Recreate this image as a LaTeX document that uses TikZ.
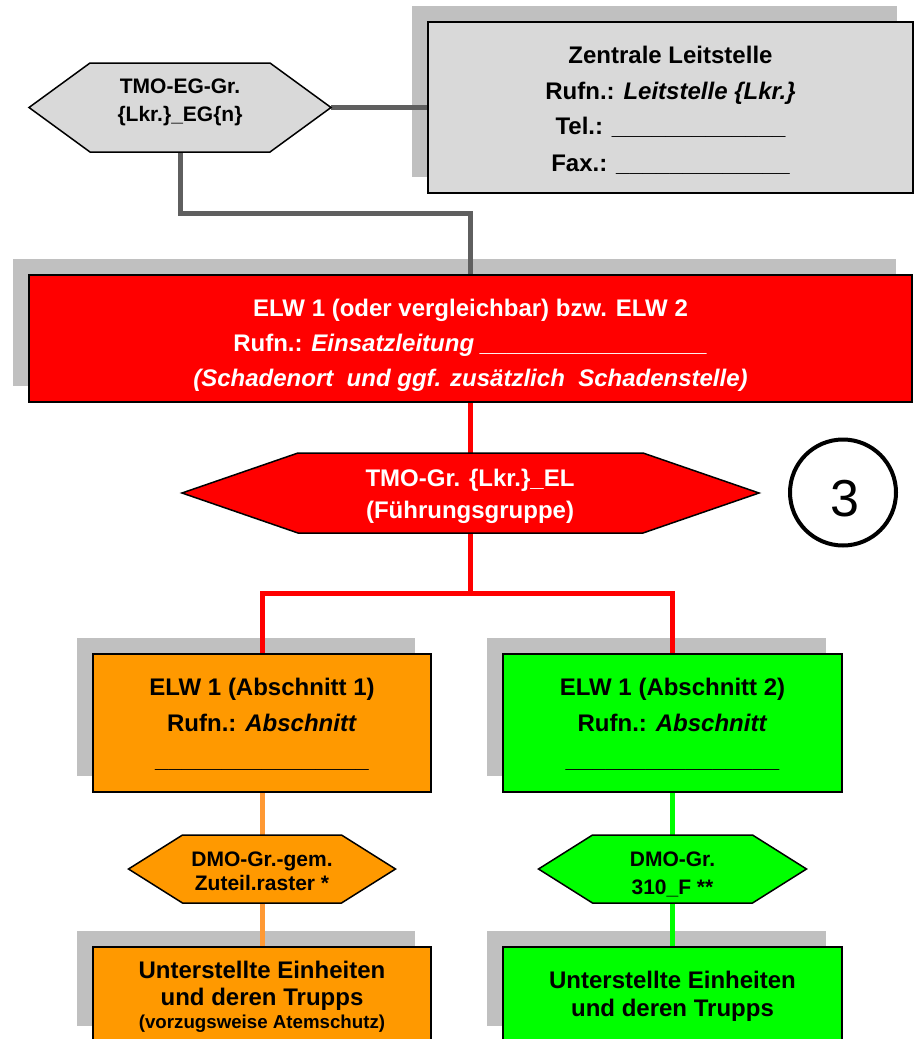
\documentclass[tikz,border=0pt]{standalone}
\usepackage{fontspec}
\setmainfont{Liberation Sans}
\usetikzlibrary{backgrounds,calc}
\definecolor{shadowgray}{HTML}{C0C0C0}
\definecolor{boxgray}{HTML}{D9D9D9}
\definecolor{linegray}{HTML}{5F5F5F}
\definecolor{myred}{HTML}{FF0000}
\definecolor{myorange}{HTML}{FF9900}
\definecolor{orangeline}{HTML}{FF9933}
\definecolor{mygreen}{HTML}{00FF00}
\tikzset{
 box/.style={draw=black, line width=1.5pt, inner sep=0pt, outer sep=0pt, rectangle},
 hexarea/.style={inner sep=0pt, outer sep=0pt, rectangle},
 lbl/.style={anchor=base, inner sep=0pt, font=\fontsize{24}{28}\selectfont\bfseries},
 lblhex/.style={anchor=base, inner sep=0pt, font=\fontsize{21}{25}\selectfont\bfseries},
 lblsmall/.style={anchor=base, inner sep=0pt, font=\fontsize{18.7}{22}\selectfont\bfseries},
 conn/.style={line width=5pt},
}
\newcommand{\hexpath}[3]{\draw[line width=1.5pt, fill=#2, line join=miter] (#1.west) -- ([xshift=#3]#1.north west) -- ([xshift=-#3]#1.north east) -- (#1.east) -- ([xshift=-#3]#1.south east) -- ([xshift=#3]#1.south west) -- cycle;}
\newcommand{\usc}[1]{\foreach \k in {1,...,#1}{\_}}
\begin{document}
\begin{tikzpicture}[x=1pt,y=-1pt]
\useasboundingbox (0,0) rectangle (917,1039);
\clip (0,0) rectangle (917,1039);
% boxes
\node[box, fill=boxgray, minimum width=485pt, minimum height=171pt] (leit) at (670.5,107.5) {};
\node[box, fill=myred, minimum width=883pt, minimum height=127pt] (elw) at (470.5,338.5) {};
\node[box, fill=myorange, minimum width=338pt, minimum height=138pt] (ab1) at (262,723) {};
\node[box, fill=mygreen, minimum width=339pt, minimum height=138pt] (ab2) at (672.5,723) {};
\node[box, fill=myorange, minimum width=338pt, minimum height=95pt] (ue1) at (262,994.5) {};
\node[box, fill=mygreen, minimum width=339pt, minimum height=95pt] (ue2) at (672.5,994.5) {};
% hexagon areas
\node[hexarea, minimum width=302pt, minimum height=89pt] (tmoeg) at (180,107.5) {};
\node[hexarea, minimum width=577pt, minimum height=80pt] (tmoel) at (470.5,493) {};
\node[hexarea, minimum width=267pt, minimum height=68pt] (dmo1) at (262,869) {};
\node[hexarea, minimum width=268pt, minimum height=68pt] (dmo2) at (672.5,869) {};
\hexpath{tmoeg}{boxgray}{61pt}
\hexpath{tmoel}{myred}{116pt}
\hexpath{dmo1}{myorange}{54pt}
\hexpath{dmo2}{mygreen}{54pt}
% circle
\node[draw, circle, line width=4pt, minimum size=106pt, inner sep=0pt] (circ) at (843,492.5) {};
\node[anchor=center, inner sep=0pt, font=\fontsize{52}{52}\selectfont] (three) at (845,498.5) {3};
% shadows and connectors behind
\begin{scope}[on background layer]
\foreach \b in {leit,elw,ab1,ab2,ue1,ue2}
  \fill[shadowgray] ([shift={(-16pt,16pt)}]\b.south west) rectangle ([shift={(-16pt,16pt)}]\b.north east);
\coordinate (bend1) at (0,213);
\coordinate (split) at (0,593);
\draw[conn, linegray] (tmoeg.east) -- (leit.west);
\draw[conn, linegray] (tmoeg.south) -- (tmoeg.south |- bend1) -| (elw.north);
\draw[conn, myred] (elw.south) -- (tmoel.north);
\draw[conn, myred] (tmoel.south) -- (tmoel.south |- split) -| (ab1.north);
\draw[conn, myred] (tmoel.south |- split) -| (ab2.north);
\draw[conn, orangeline] (ab1.south) -- (dmo1.north);
\draw[conn, orangeline] (dmo1.south) -- (ue1.north);
\draw[conn, mygreen] (ab2.south) -- (dmo2.north);
\draw[conn, mygreen] (dmo2.south) -- (ue2.north);
\end{scope}
% texts
\node[lblhex] (t1) at (180,93) {TMO-EG-Gr.};
\node[lblhex] (t2) at (180,121.5) {\{Lkr.\}\_EG\{n\}};
\node[lbl] (l1) at (670.5,63) {Zentrale Leitstelle};
\node[lbl] (l2) at (670.5,99) {Rufn.: \textit{Leitstelle \{Lkr.\}}};
\node[lbl] (l3) at (670.5,134) {Tel.: \_\_\_\_\_\_\_\_\_\_\_\_\_};
\node[lbl] (l4) at (670.5,171.5) {Fax.: \_\_\_\_\_\_\_\_\_\_\_\_\_};
\node[lbl, text=white] (e1) at (470.5,316) {ELW 1 (oder vergleichbar) bzw. ELW 2};
\node[lbl, text=white] (e2) at (470.5,351) {Rufn.: \textit{Einsatzleitung \_\_\_\_\_\_\_\_\_\_\_\_\_\_\_\_\_}};
\node[lbl, text=white] (e3) at (470.5,386.5) {\textit{(Schadenort\ \ und ggf. zusätzlich\ \ Schadenstelle)}};
\node[lbl, text=white] (h1) at (470,486) {TMO-Gr. \{Lkr.\}\_EL};
\node[lbl, text=white] (h2) at (470,518) {(Führungsgruppe)};
\node[lbl] (a1) at (262,695) {ELW 1 (Abschnitt 1)};
\node[lbl] (a2) at (262,731) {Rufn.: \textit{Abschnitt}};
\node[lbl] (a3) at (262,767) {\_\_\_\_\_\_\_\_\_\_\_\_\_\_\_\_};
\node[lbl] (b1) at (672.5,695) {ELW 1 (Abschnitt 2)};
\node[lbl] (b2) at (672.5,731) {Rufn.: \textit{Abschnitt}};
\node[lbl] (b3) at (672.5,767) {\_\_\_\_\_\_\_\_\_\_\_\_\_\_\_\_};
\node[lblhex] (d1) at (262,866.7) {DMO-Gr.-gem.};
\node[lblhex] (d2) at (262,890) {Zuteil.raster *};
\node[lblhex] (g1) at (672.5,866.7) {DMO-Gr.};
\node[lblhex] (g2) at (672.5,894) {310\_F **};
\node[lbl] (u1) at (262,978.3) {Unterstellte Einheiten};
\node[lbl] (u2) at (262,1005) {und deren Trupps};
\node[lblsmall] (u3) at (262,1028.3) {(vorzugsweise Atemschutz)};
\node[lbl] (v1) at (672.5,988) {Unterstellte Einheiten};
\node[lbl] (v2) at (672.5,1016) {und deren Trupps};
\end{tikzpicture}
\end{document}
